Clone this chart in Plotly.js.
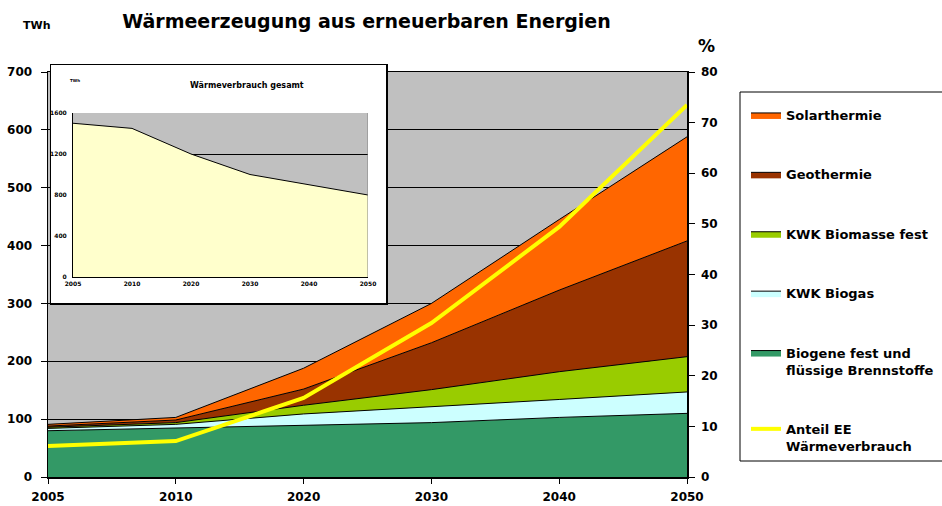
<!DOCTYPE html>
<html lang="de">
<head>
  <meta charset="UTF-8" />
  <title>Wärmeerzeugung aus erneuerbaren Energien</title>
  <style>
    body { margin: 0; background: #fff; }
    #chart { width: 942px; height: 506px; }
  </style>
</head>
<body>
  <div id="chart"></div>
  <script src="https://cdn.plot.ly/plotly-3.0.1.min.js"></script>
  <script>
    // Daten (TWh bzw. %)
    const jahre = ['2005', '2010', '2020', '2030', '2040', '2050'];
    const biogene = [80, 85, 89, 94, 103, 110];
    const kwkBiogas = [4, 6, 20, 27, 31, 37];
    const kwkBiomasse = [2, 3, 15, 30, 48, 61];
    const geothermie = [2, 4.5, 28, 81, 141, 200];
    const solarthermie = [3, 4.5, 36, 68, 122, 180];
    const anteilEE = [6.1, 7.1, 15.6, 30.4, 49.4, 73.5];
    const waermeverbrauch = [1500, 1450, 1200, 1000, 900, 800];

    // Seitenmaße in Pixel
    const W = 942, H = 506;
    const M = { l: 48, r: 255, t: 65, b: 29 };
    const pw = W - M.l - M.r;
    const ph = H - M.t - M.b;
    const px = x => (x - M.l) / pw;        // Pixel -> paper x
    const py = y => (H - M.b - y) / ph;    // Pixel -> paper y

    const schrift = { family: 'DejaVu Sans', color: '#000', weight: 'bold' };
    const grau = '#C0C0C0';

    function flaeche(name, werte, farbe, rang) {
      return {
        x: jahre, y: werte, name: name,
        type: 'scatter', mode: 'lines',
        stackgroup: 'ee',
        fillcolor: farbe,
        line: { color: '#000', width: 1 },
        legendgroup: name, legendrank: rang,
        hoverinfo: 'name+y'
      };
    }

    const traces = [
      flaeche('Biogene fest und<br>flüssige Brennstoffe', biogene, '#339966', 5),
      flaeche('KWK Biogas', kwkBiogas, '#CCFFFF', 4),
      flaeche('KWK Biomasse fest', kwkBiomasse, '#99CC00', 3),
      flaeche('Geothermie', geothermie, '#993300', 2),
      flaeche('Solarthermie', solarthermie, '#FF6600', 1),
      {
        x: jahre, y: anteilEE, name: 'Anteil EE<br>Wärmeverbrauch',
        type: 'scatter', mode: 'lines', yaxis: 'y2',
        line: { color: '#FFFF00', width: 4 },
        legendgroup: 'anteil', legendrank: 6
      },
      // leerer Trace, damit der Rahmen-Subplot angelegt wird
      { x: [], y: [], type: 'scatter', xaxis: 'x2', yaxis: 'y3', showlegend: false },
      // kleines Diagramm: Wärmeverbrauch gesamt
      {
        x: jahre, y: waermeverbrauch, name: 'Wärmeverbrauch gesamt',
        type: 'scatter', mode: 'lines', xaxis: 'x3', yaxis: 'y4',
        fill: 'tozeroy', fillcolor: '#FFFFCC',
        line: { color: '#000', width: 1 },
        showlegend: false
      }
    ];

    const tickFont = Object.assign({}, schrift, { size: 12 });
    const miniFont = Object.assign({}, schrift, { size: 6 });

    function notiz(text, x, y, size) {
      return {
        text: text, xref: 'paper', yref: 'paper', x: px(x), y: py(y),
        xanchor: 'center', yanchor: 'middle', showarrow: false,
        font: Object.assign({}, schrift, { size: size })
      };
    }

    const layout = {
      width: W, height: H,
      margin: Object.assign({ autoexpand: false }, M),
      paper_bgcolor: '#fff',
      plot_bgcolor: grau,
      showlegend: true,
      title: {
        text: 'Wärmeerzeugung aus erneuerbaren Energien',
        font: Object.assign({}, schrift, { size: 19 }),
        x: 366.5 / W, xanchor: 'center',
        y: 1 - 21 / H, yanchor: 'middle'
      },
      xaxis: {
        type: 'category', range: [0, jahre.length - 1],
        showline: true, mirror: true, linecolor: '#000', linewidth: 1.5,
        ticks: 'outside', ticklen: 5, tickcolor: '#000',
        tickfont: tickFont, ticklabelstandoff: 3,
        showgrid: false, zeroline: false
      },
      yaxis: {
        domain: [0, py(72)], range: [0, 700], dtick: 100,
        showline: true, linecolor: '#000', linewidth: 1.5,
        ticks: 'outside', ticklen: 6, tickcolor: '#000',
        tickfont: tickFont, ticklabelstandoff: 6,
        gridcolor: '#000', gridwidth: 1, zeroline: false
      },
      yaxis2: {
        overlaying: 'y', side: 'right', anchor: 'x',
        range: [0, 80], dtick: 10,
        showline: true, linecolor: '#000', linewidth: 1.5,
        ticks: 'outside', ticklen: 6, tickcolor: '#000',
        tickfont: tickFont, ticklabelstandoff: 4,
        showgrid: false, zeroline: false
      },
      // weißer Rahmen um das kleine Diagramm
      xaxis2: {
        domain: [px(51), px(386)], anchor: 'y3', range: [0, 1],
        showline: true, mirror: true, linecolor: '#000', linewidth: 1.5,
        showticklabels: false, ticks: '', showgrid: false, zeroline: false
      },
      yaxis3: {
        domain: [py(303), 1], anchor: 'x2', range: [0, 1],
        showline: true, mirror: true, linecolor: '#000', linewidth: 1.5,
        showticklabels: false, ticks: '', showgrid: false, zeroline: false
      },
      // kleines Diagramm
      xaxis3: {
        domain: [px(73), px(368)], anchor: 'y4',
        type: 'category', range: [0, jahre.length - 1],
        showline: true, linecolor: '#000', linewidth: 1,
        ticks: '', tickfont: miniFont, ticklabelstandoff: 1,
        showgrid: false, zeroline: false
      },
      yaxis4: {
        domain: [py(277), py(113)], anchor: 'x3',
        range: [0, 1600], dtick: 400,
        showline: true, linecolor: '#000', linewidth: 1,
        ticks: '', tickfont: miniFont, ticklabelstandoff: 4,
        gridcolor: '#000', gridwidth: 1, zeroline: false
      },
      shapes: [
        // weiße Fläche des Rahmens
        { type: 'rect', xref: 'x2', yref: 'y3', layer: 'between',
          x0: 0, x1: 1, y0: 0, y1: 1, fillcolor: '#fff', line: { width: 0 } },
        // rechter Rand des kleinen Diagramms (grau)
        { type: 'line', xref: 'x3', yref: 'y4', layer: 'above',
          x0: jahre.length - 1, x1: jahre.length - 1, y0: 0, y1: 1600,
          line: { color: '#808080', width: 1 } },
        // Legendenrahmen
        { type: 'rect', xref: 'paper', yref: 'paper', layer: 'above',
          x0: px(740), x1: px(946), y0: py(461), y1: py(92),
          fillcolor: 'rgba(0,0,0,0)', line: { color: '#000', width: 1 } }
      ],
      legend: {
        x: px(746), xanchor: 'left',
        y: py(100), yanchor: 'top',
        bgcolor: 'rgba(0,0,0,0)', borderwidth: 0,
        font: Object.assign({}, schrift, { size: 13 }),
        traceorder: 'grouped', tracegroupgap: 39.5,
        valign: 'top', itemwidth: 30
      },
      annotations: [
        notiz('TWh', 36, 25, 11),
        notiz('%', 706, 46, 17),
        notiz('Wärmeverbrauch gesamt', 247, 86, 8),
        notiz('TWh', 75, 80, 4)
      ]
    };

    Plotly.newPlot('chart', traces, layout, { displayModeBar: false, staticPlot: true });
  </script>
</body>
</html>
